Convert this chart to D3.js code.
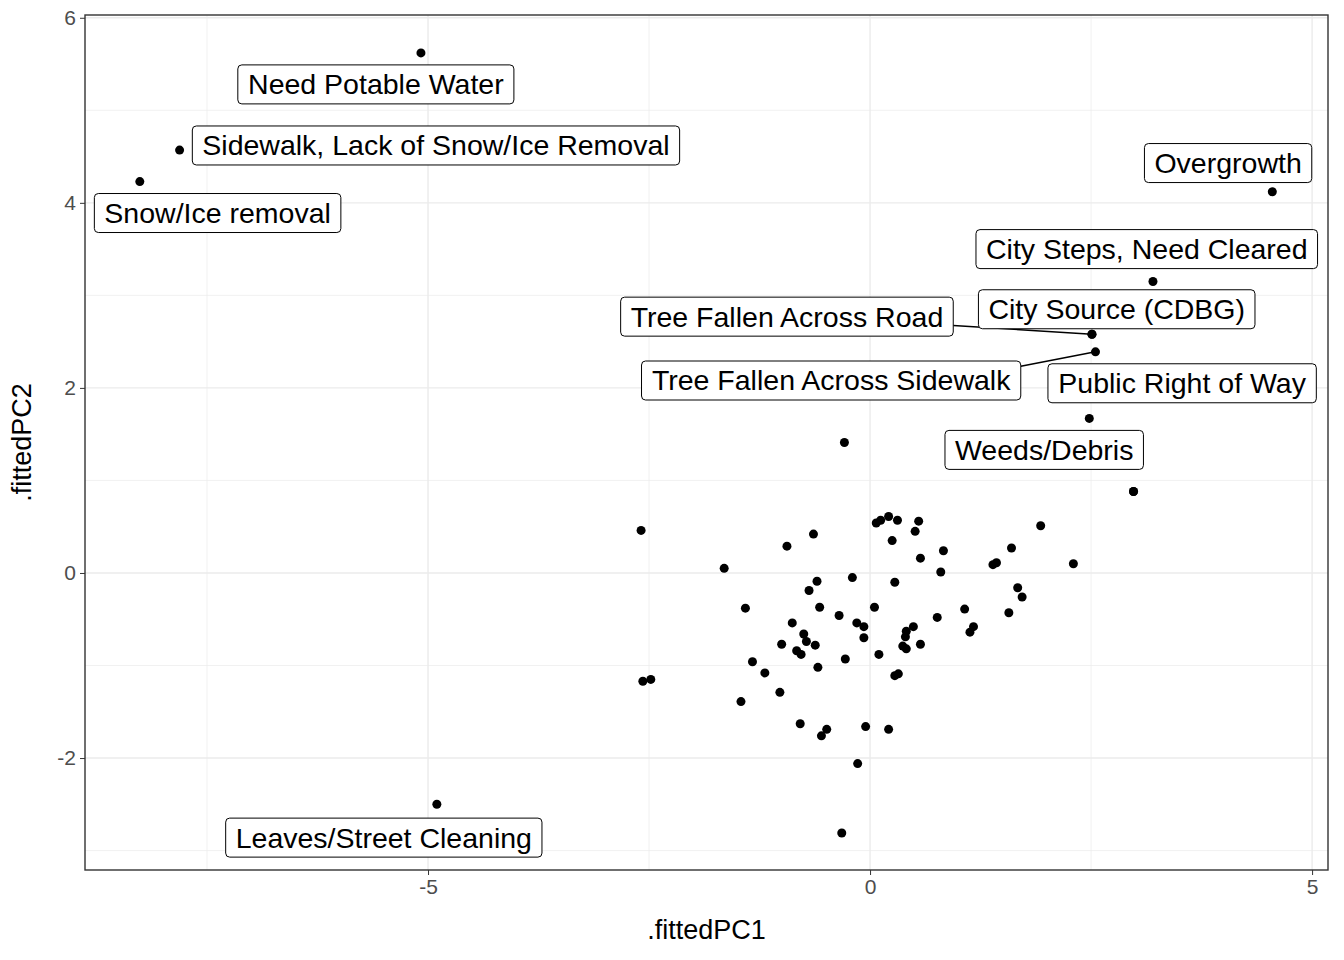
<!DOCTYPE html>
<html><head><meta charset="utf-8">
<script src="https://cdn.jsdelivr.net/npm/d3@7"></script>
<style>body{margin:0;background:#fff}</style></head>
<body><svg id="vis" width="1344" height="960"></svg>
<script>
// Unlabelled points
const pcX = [-0.29,2.98,-2.59,-1.65,-0.94,-0.64,0.07,0.12,0.21,0.31,0.55,0.51,0.25,1.93,0.83,0.57,1.60,1.43,1.39,2.30,0.80,-0.20,0.28,-0.60,-0.69,1.67,1.72,-0.57,-1.41,0.05,-0.35,-0.15,-0.07,-0.88,0.76,1.07,0.49,0.41,0.40,1.13,1.17,1.57,-0.75,-0.72,-0.62,-1.00,-0.83,-0.78,0.57,0.37,0.41,-0.07,0.10,-0.28,-1.33,-0.59,-1.19,0.28,0.32,-1.02,-2.48,-2.57,-1.46,-0.79,-0.49,-0.55,-0.05,0.21,-0.14,-0.32];
const pcY = [1.41,0.88,0.46,0.05,0.29,0.42,0.54,0.57,0.61,0.57,0.56,0.45,0.35,0.51,0.24,0.16,0.27,0.11,0.09,0.10,0.01,-0.05,-0.10,-0.09,-0.19,-0.16,-0.26,-0.37,-0.38,-0.37,-0.46,-0.54,-0.58,-0.54,-0.48,-0.39,-0.58,-0.63,-0.69,-0.64,-0.58,-0.43,-0.66,-0.74,-0.78,-0.77,-0.84,-0.88,-0.77,-0.79,-0.82,-0.70,-0.88,-0.93,-0.96,-1.02,-1.08,-1.11,-1.09,-1.29,-1.15,-1.17,-1.39,-1.63,-1.69,-1.76,-1.66,-1.69,-2.06,-2.81];

// Labelled points
const labNames = ['Need Potable Water','Sidewalk, Lack of Snow/Ice Removal','Snow/Ice removal','Overgrowth','City Steps, Need Cleared','City Source (CDBG)','Tree Fallen Across Road','Tree Fallen Across Sidewalk','Public Right of Way','Weeds/Debris','Leaves/Street Cleaning'];
const labX = [-5.08,-7.81,-8.26,4.55,3.20,2.51,2.51,2.55,2.48,2.98,-4.90];
const labY = [5.62,4.57,4.23,4.12,3.15,2.58,2.58,2.39,1.67,0.88,-2.50];
// repelled label centres (data units)
const boxX = [-5.59,-4.91,-7.38,4.05,3.13,2.79,-0.94,-0.44,3.53,1.97,-5.50];
const boxY = [5.28,4.62,3.89,4.43,3.50,2.85,2.77,2.08,2.05,1.33,-2.86];
const segment = [false,false,false,false,false,false,true,true,false,false,false];

const xTicks = [-5,0,5], yTicks = [-2,0,2,4,6];
const xMinor = [-7.5,-2.5,2.5], yMinor = [-3,-1,1,3,5];

const margin = {top: 15, right: 16, bottom: 90, left: 85};
const width = 1344 - margin.left - margin.right;
const height = 855;

const svg = d3.select('#vis').append('g')
    .attr('transform', `translate(${margin.left},${margin.top})`);

const xScale = d3.scaleLinear().domain([-8.88, 5.18]).range([0, width]);
const yScale = d3.scaleLinear().domain([-3.21, 6.03]).range([height, 0]);

// grid
svg.selectAll('.minx').data(xMinor).join('line')
    .attr('x1', d => xScale(d)).attr('x2', d => xScale(d)).attr('y1', 0).attr('y2', height)
    .attr('stroke', '#ebebeb').attr('stroke-width', 0.7);
svg.selectAll('.miny').data(yMinor).join('line')
    .attr('y1', d => yScale(d)).attr('y2', d => yScale(d)).attr('x1', 0).attr('x2', width)
    .attr('stroke', '#ebebeb').attr('stroke-width', 0.7);
svg.selectAll('.majx').data(xTicks).join('line')
    .attr('x1', d => xScale(d)).attr('x2', d => xScale(d)).attr('y1', 0).attr('y2', height)
    .attr('stroke', '#ebebeb').attr('stroke-width', 1.4);
svg.selectAll('.majy').data(yTicks).join('line')
    .attr('y1', d => yScale(d)).attr('y2', d => yScale(d)).attr('x1', 0).attr('x2', width)
    .attr('stroke', '#ebebeb').attr('stroke-width', 1.4);

// axes
const xAxis = svg.append('g').attr('transform', `translate(0,${height})`)
    .call(d3.axisBottom(xScale).tickValues(xTicks).tickFormat(d => String(d)).tickSize(5).tickPadding(4));
const yAxis = svg.append('g')
    .call(d3.axisLeft(yScale).tickValues(yTicks).tickFormat(d => String(d)).tickSize(5).tickPadding(4));
[xAxis, yAxis].forEach(a => {
    a.select('.domain').remove();
    a.selectAll('line').attr('stroke', '#333');
    a.selectAll('text').attr('fill', '#4d4d4d').style('font-family', 'Liberation Sans, Arial').style('font-size', '21px');
});

svg.append('rect').attr('width', width).attr('height', height)
    .attr('fill', 'none').attr('stroke', '#333').attr('stroke-width', 1.4);

svg.append('text').attr('x', width / 2).attr('y', height + 69).attr('text-anchor', 'middle')
    .style('font-family', 'Liberation Sans, Arial').style('font-size', '27px').text('.fittedPC1');
svg.append('text').attr('transform', 'rotate(-90)').attr('x', -height / 2).attr('y', -54)
    .attr('text-anchor', 'middle')
    .style('font-family', 'Liberation Sans, Arial').style('font-size', '27px').text('.fittedPC2');

// points
svg.selectAll('.pt').data(pcX).join('circle')
    .attr('cx', d => xScale(d)).attr('cy', (d, i) => yScale(pcY[i])).attr('r', 4.5).attr('fill', '#000');
svg.selectAll('.lpt').data(labX).join('circle')
    .attr('cx', d => xScale(d)).attr('cy', (d, i) => yScale(labY[i])).attr('r', 4.5).attr('fill', '#000');

// labels
labNames.forEach((name, i) => {
    const g = svg.append('g').attr('transform', `translate(${xScale(boxX[i])},${yScale(boxY[i])})`);
    const t = g.append('text').attr('text-anchor', 'middle').attr('dy', '0.35em')
        .style('font-family', 'Liberation Sans, Arial').style('font-size', '28.5px').text(name);
    const bb = t.node().getBBox();
    const w = bb.width + 20, h = 39;
    if (segment[i]) {
        const cx = xScale(boxX[i]), cy = yScale(boxY[i]);
        const px = xScale(labX[i]), py = yScale(labY[i]);
        const ex = px > cx ? w / 2 : -w / 2;
        const ey = Math.max(-h / 2, Math.min(h / 2, (py - cy) * 0.5));
        svg.insert('line', 'g').attr('x1', cx + ex).attr('y1', cy + ey).attr('x2', px).attr('y2', py)
            .attr('stroke', '#000').attr('stroke-width', 1.5);
    }
    g.insert('rect', 'text').attr('x', -w / 2).attr('y', -h / 2).attr('width', w).attr('height', h)
        .attr('rx', 4).attr('fill', '#fff').attr('stroke', '#000').attr('stroke-width', 1);
});
</script></body></html>
